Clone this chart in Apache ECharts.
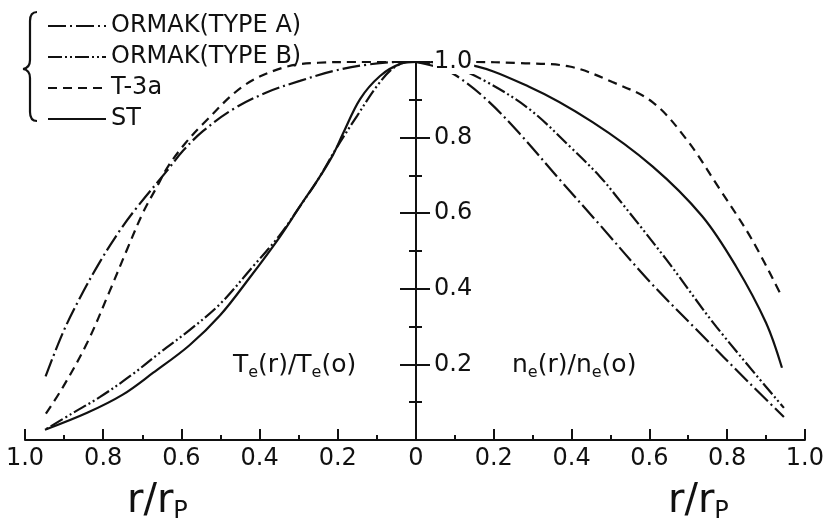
<!DOCTYPE html>
<html>
<head>
<meta charset="utf-8">
<script src="https://cdn.jsdelivr.net/npm/echarts@6/dist/echarts.min.js"></script>
<style>
  html, body { margin: 0; padding: 0; background: #fff; }
  #chart { width: 827px; height: 522px; }
</style>
</head>
<body>
<div id="chart"></div>
<script>
// Legend entries (machine names)
const seriesNames = ['ORMAK(TYPE A)', 'ORMAK(TYPE B)', 'T-3a', 'ST'];

// Left half: electron temperature Te(r)/Te(0) against r/rP
const teOrmakA = [[0, 1.0], [0.04, 1.0], [0.125, 0.993], [0.212, 0.976], [0.297, 0.95], [0.381, 0.92],
  [0.468, 0.875], [0.545, 0.817], [0.596, 0.765], [0.637, 0.712], [0.714, 0.615], [0.757, 0.555],
  [0.808, 0.472], [0.859, 0.377], [0.903, 0.284], [0.949, 0.164]];
const teOrmakB = [[0, 1.0], [0.02, 1.0], [0.059, 0.983], [0.1, 0.936], [0.151, 0.857], [0.202, 0.775],
  [0.25, 0.69], [0.297, 0.618], [0.35, 0.54], [0.417, 0.459], [0.501, 0.36], [0.58, 0.29],
  [0.655, 0.231], [0.73, 0.17], [0.808, 0.114], [0.88, 0.07], [0.949, 0.027]];
const teT3a = [[0, 1.0], [0.15, 1.0], [0.25, 0.998], [0.34, 0.985], [0.442, 0.936], [0.545, 0.836],
  [0.59, 0.785], [0.634, 0.724], [0.662, 0.671], [0.698, 0.602], [0.739, 0.504], [0.785, 0.39],
  [0.841, 0.257], [0.903, 0.14], [0.954, 0.058]];
const teST = [[0, 1.0], [0.04, 0.995], [0.092, 0.963], [0.143, 0.902], [0.187, 0.81], [0.212, 0.755],
  [0.25, 0.69], [0.297, 0.618], [0.35, 0.535], [0.425, 0.43], [0.501, 0.33], [0.58, 0.25],
  [0.672, 0.178], [0.75, 0.12], [0.841, 0.072], [0.949, 0.027]];

// Right half: electron density ne(r)/ne(0) against r/rP
const neOrmakA = [[0, 1.0], [0.06, 0.985], [0.105, 0.963], [0.182, 0.9], [0.267, 0.81], [0.377, 0.68],
  [0.472, 0.57], [0.6, 0.42], [0.728, 0.285], [0.856, 0.152], [0.946, 0.061]];
const neOrmakB = [[0, 1.0], [0.095, 0.987], [0.182, 0.947], [0.292, 0.875], [0.403, 0.769], [0.472, 0.698],
  [0.515, 0.645], [0.644, 0.477], [0.772, 0.3], [0.946, 0.085]];
const neT3a = [[0, 1.0], [0.138, 1.0], [0.267, 0.997], [0.395, 0.988], [0.505, 0.947], [0.608, 0.894],
  [0.695, 0.796], [0.78, 0.665], [0.864, 0.53], [0.941, 0.378]];
const neST = [[0, 1.0], [0.121, 0.995], [0.292, 0.934], [0.454, 0.841], [0.608, 0.724], [0.736, 0.592],
  [0.823, 0.459], [0.9, 0.31], [0.941, 0.191]];

// Axis ticks
const radialTicks = [0, 0.2, 0.4, 0.6, 0.8, 1.0];
const ratioTicks = [0.2, 0.4, 0.6, 0.8, 1.0];

const INK = '#111';
const FONT = '"DejaVu Sans", "Noto Sans", sans-serif';
const CLEAR = 'rgba(0,0,0,0)';

const dashes = {
  'ORMAK(TYPE A)': [18, 4, 2, 4],
  'ORMAK(TYPE B)': [14, 3, 2, 3, 2, 3],
  'T-3a': [9, 6],
  'ST': 'solid'
};

function line(name, data, gridIdx) {
  return {
    type: 'line', name: name, data: data,
    xAxisIndex: gridIdx, yAxisIndex: gridIdx,
    symbol: 'none', smooth: 0.35, clip: false,
    lineStyle: { color: INK, width: 2.2, type: dashes[name] },
    itemStyle: { color: INK },
    emphasis: { disabled: true },
    z: 2
  };
}

function fmtRadial(v) {
  if (Math.abs(v) < 1e-9) return '0';
  return v.toFixed(1);
}

// Curly brace grouping the legend entries
const braceStroke = { stroke: INK, lineWidth: 2.2, fill: null };
function curve(x1, y1, cx, cy, x2, y2) {
  return { type: 'bezierCurve', shape: { x1: x1, y1: y1, cpx1: cx, cpy1: cy, x2: x2, y2: y2 }, style: braceStroke };
}
function seg(x1, y1, x2, y2) {
  return { type: 'line', shape: { x1: x1, y1: y1, x2: x2, y2: y2 }, style: braceStroke };
}

const subRich = {
  n: { fontSize: 25, lineHeight: 32, fontFamily: FONT, fill: INK },
  s: { fontSize: 16, lineHeight: 16, verticalAlign: 'bottom', fontFamily: FONT, fill: INK }
};
const radiusRich = {
  a: { fontSize: 40, lineHeight: 44, fontFamily: FONT, fill: INK },
  b: { fontSize: 24, lineHeight: 24, verticalAlign: 'bottom', fontFamily: FONT, fill: INK }
};

const chart = echarts.init(document.getElementById('chart'), null, { renderer: 'canvas' });

const option = {
  animation: false,
  backgroundColor: '#fff',
  textStyle: { fontFamily: FONT, color: INK },
  grid: [
    { left: 25, right: 411, top: 62, bottom: 82 },
    { left: 416, right: 21, top: 62, bottom: 82 }
  ],
  xAxis: [
    {
      gridIndex: 0, type: 'value', inverse: true, min: 0, max: 1, interval: 0.2,
      axisLine: { lineStyle: { color: INK, width: 2 } },
      axisTick: { inside: true, length: 11, lineStyle: { color: INK, width: 2 } },
      minorTick: { show: true, splitNumber: 2, length: 5, lineStyle: { color: INK, width: 2 } },
      splitLine: { show: false },
      axisLabel: { fontSize: 24, color: INK, margin: 7, fontFamily: FONT,
        formatter: v => radialTicks.some(t => Math.abs(t - v) < 1e-6) ? fmtRadial(v) : '' }
    },
    {
      gridIndex: 1, type: 'value', min: 0, max: 1, interval: 0.2,
      axisLine: { lineStyle: { color: INK, width: 2 } },
      axisTick: { inside: true, length: 11, lineStyle: { color: INK, width: 2 } },
      minorTick: { show: true, splitNumber: 2, length: 5, lineStyle: { color: INK, width: 2 } },
      splitLine: { show: false },
      axisLabel: { fontSize: 24, color: INK, margin: 7, fontFamily: FONT,
        formatter: v => (v > 1e-6 && radialTicks.some(t => Math.abs(t - v) < 1e-6)) ? fmtRadial(v) : '' }
    }
  ],
  yAxis: [
    {
      gridIndex: 0, type: 'value', position: 'right', min: 0, max: 1, interval: 0.2,
      axisLine: { show: true, lineStyle: { color: INK, width: 2 } },
      axisTick: { show: true, inside: false, length: 14, lineStyle: { color: INK, width: 2 } },
      minorTick: { show: true, splitNumber: 2, length: 6, lineStyle: { color: INK, width: 2 } },
      splitLine: { show: false },
      axisLabel: { show: false }
    },
    {
      gridIndex: 1, type: 'value', position: 'left', min: 0, max: 1, interval: 0.2, z: 5,
      axisLine: { show: true, lineStyle: { color: INK, width: 2 } },
      axisTick: { show: true, inside: false, length: 16, lineStyle: { color: INK, width: 2 } },
      minorTick: { show: true, splitNumber: 2, length: 7, lineStyle: { color: INK, width: 2 } },
      splitLine: { show: false },
      axisLabel: { inside: true, margin: 17, fontSize: 24, color: INK, fontFamily: FONT,
        backgroundColor: '#fff', padding: [0, 2, 0, 1],
        formatter: v => ratioTicks.some(t => Math.abs(t - v) < 1e-6) ? v.toFixed(1) : '' }
    }
  ],
  legend: {
    orient: 'vertical', left: 42, top: 8,
    itemWidth: 58, itemHeight: 26, itemGap: 5,
    data: seriesNames,
    itemStyle: { color: CLEAR, borderColor: CLEAR, borderWidth: 0 },
    textStyle: { fontSize: 24, lineHeight: 26, color: INK, fontFamily: FONT },
    selectedMode: false
  },
  graphic: [
    curve(37, 12, 30, 12, 30, 21),
    seg(30, 21, 30, 60),
    curve(30, 60, 30, 68, 23, 69),
    curve(23, 69, 30, 70, 30, 78),
    seg(30, 78, 30, 112),
    curve(30, 112, 30, 121, 37, 121),
    { type: 'text', x: 233, y: 365,
      style: { text: '{n|T}{s|e}{n|(r)/T}{s|e}{n|(o)}', verticalAlign: 'middle', fill: INK, rich: subRich } },
    { type: 'text', x: 512, y: 365,
      style: { text: '{n|n}{s|e}{n|(r)/n}{s|e}{n|(o)}', verticalAlign: 'middle', fill: INK, rich: subRich } },
    { type: 'text', x: 127, y: 502,
      style: { text: '{a|r/r}{b|P}', verticalAlign: 'middle', fill: INK, rich: radiusRich } },
    { type: 'text', x: 668, y: 502,
      style: { text: '{a|r/r}{b|P}', verticalAlign: 'middle', fill: INK, rich: radiusRich } }
  ],
  series: [
    line('ORMAK(TYPE A)', teOrmakA, 0),
    line('ORMAK(TYPE B)', teOrmakB, 0),
    line('T-3a', teT3a, 0),
    line('ST', teST, 0),
    line('ORMAK(TYPE A)', neOrmakA, 1),
    line('ORMAK(TYPE B)', neOrmakB, 1),
    line('T-3a', neT3a, 1),
    line('ST', neST, 1)
  ]
};

chart.setOption(option);
</script>
</body>
</html>
